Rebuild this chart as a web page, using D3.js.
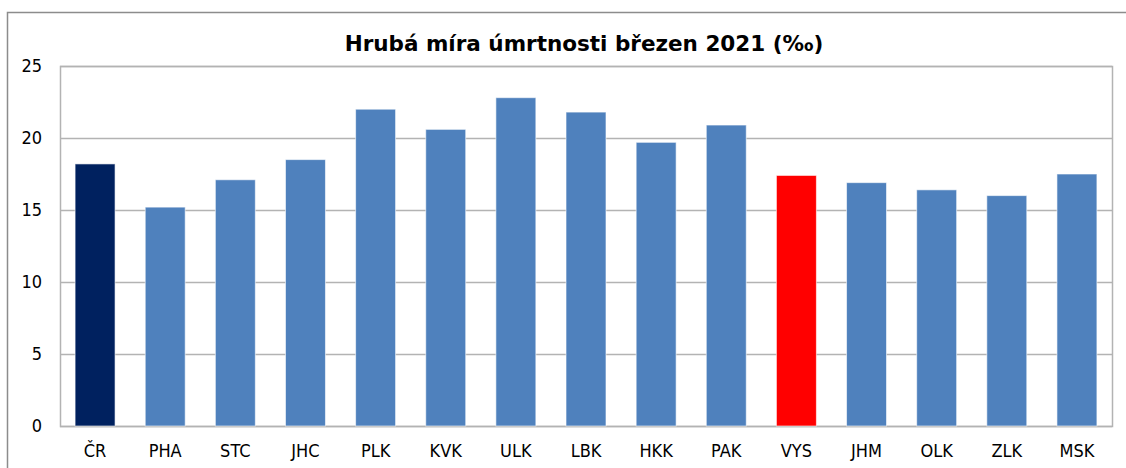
<!DOCTYPE html>
<html>
<head>
<meta charset="utf-8">
<script src="https://cdn.jsdelivr.net/npm/d3@7"></script>
<style>
  body { margin: 0; background: #fff; }
  text { font-family: Tahoma, "DejaVu Sans Condensed", "DejaVu Sans", sans-serif; fill: #000; }
</style>
</head>
<body>
<svg id="chart" width="1126" height="468"></svg>
<script>
// data
let regions = ['ČR', 'PHA', 'STC', 'JHC', 'PLK', 'KVK', 'ULK', 'LBK', 'HKK', 'PAK', 'VYS', 'JHM', 'OLK', 'ZLK', 'MSK']
let rates = [18.2, 15.2, 17.1, 18.5, 22.0, 20.6, 22.8, 21.8, 19.7, 20.9, 17.4, 16.9, 16.4, 16.0, 17.5]
let yTicks = [0, 5, 10, 15, 20, 25]
let title = 'Hrubá míra úmrtnosti březen 2021 (‰)'

let plot = { left: 60, right: 1112, top: 66, bottom: 426 }
let svg = d3.select('#chart')

// outer frame (only top and left edges show in the crop)
svg.append('path')
  .attr('d', 'M7.5,468 V12.5 H1126')
  .attr('fill', 'none')
  .attr('stroke', '#8c8c8c')
  .attr('stroke-width', 1.5)

let x = d3.scaleBand()
  .domain(regions)
  .range([plot.left, plot.right])
  .paddingInner(0.43)
  .paddingOuter(0.215)

let y = d3.scaleLinear()
  .domain([0, 25])
  .range([plot.bottom, plot.top])

// gridlines
svg.append('g')
  .selectAll('line')
  .data(yTicks)
  .join('line')
  .attr('x1', plot.left)
  .attr('x2', plot.right)
  .attr('y1', d => Math.round(y(d)) + 0.5)
  .attr('y2', d => Math.round(y(d)) + 0.5)
  .attr('stroke', '#b3b3b3')
  .attr('stroke-width', 1.5)

// plot frame
svg.append('rect')
  .attr('x', plot.left + 0.5)
  .attr('y', plot.top + 0.5)
  .attr('width', plot.right - plot.left)
  .attr('height', plot.bottom - plot.top)
  .attr('fill', 'none')
  .attr('stroke', '#b3b3b3')
  .attr('stroke-width', 1.5)

let barColor = d => d === 'ČR' ? '#00215f' : d === 'VYS' ? '#ff0000' : '#4f81bd'

svg.append('g')
  .selectAll('rect.bar')
  .data(regions.map((r, i) => ({ region: r, value: rates[i] })))
  .join('rect')
  .attr('class', 'bar')
  .attr('x', d => x(d.region))
  .attr('y', d => y(d.value))
  .attr('width', x.bandwidth())
  .attr('height', d => y(0) - y(d.value))
  .attr('fill', d => barColor(d.region))
  .attr('stroke', 'rgba(255,255,255,0.6)')
  .attr('stroke-width', 1)

// y axis labels
svg.append('g')
  .selectAll('text')
  .data(yTicks)
  .join('text')
  .attr('x', 42)
  .attr('y', d => y(d))
  .attr('dy', '0.35em')
  .attr('text-anchor', 'end')
  .style('font-size', '18px')
  .text(d => d)

// x axis labels
svg.append('g')
  .selectAll('text')
  .data(regions)
  .join('text')
  .attr('x', d => x(d) + x.bandwidth() / 2)
  .attr('y', 451)
  .attr('dy', '0.35em')
  .attr('text-anchor', 'middle')
  .style('font-size', '18px')
  .text(d => d)

svg.append('text')
  .attr('x', 584)
  .attr('y', 51)
  .attr('text-anchor', 'middle')
  .style('font-family', 'Tahoma, "DejaVu Sans", sans-serif')
  .style('font-size', '21.5px')
  .style('font-weight', 'bold')
  .text(title)
</script>
</body>
</html>
